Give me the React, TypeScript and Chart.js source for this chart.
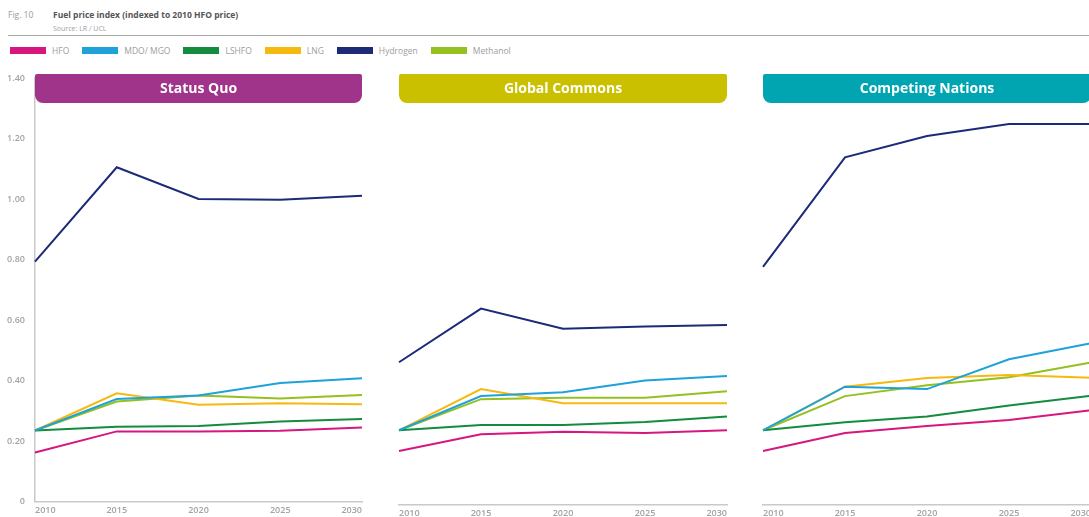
import React, { useEffect, useRef } from "react";
import { Chart, registerables } from "chart.js";

Chart.register(...registerables);

// ---------- data ----------
const years = ["2010", "2015", "2020", "2025", "2030"];
const yTicks = [0, 0.2, 0.4, 0.6, 0.8, 1.0, 1.2, 1.4];

const seriesNames = ["HFO", "MDO/ MGO", "LSHFO", "LNG", "Hydrogen", "Methanol"];
const seriesColors = ["#d6177f", "#1fa2d9", "#138c3f", "#f6b90f", "#1c2a78", "#94c11f"];

const panelTitles = ["Status Quo", "Global Commons", "Competing Nations"];
const panelColors = ["#a0348a", "#cbc000", "#00a5b1"];

// Status Quo
const sqHFO = [0.162, 0.232, 0.232, 0.234, 0.245];
const sqMDO = [0.235, 0.339, 0.351, 0.392, 0.408];
const sqLSHFO = [0.235, 0.247, 0.25, 0.265, 0.273];
const sqLNG = [0.235, 0.358, 0.32, 0.325, 0.322];
const sqHydrogen = [0.793, 1.105, 1.0, 0.998, 1.011];
const sqMethanol = [0.235, 0.331, 0.351, 0.341, 0.352];

// Global Commons
const gcHFO = [0.177, 0.232, 0.24, 0.236, 0.245];
const gcMDO = [0.245, 0.357, 0.37, 0.408, 0.423];
const gcLSHFO = [0.245, 0.262, 0.262, 0.272, 0.29];
const gcLNG = [0.245, 0.38, 0.334, 0.334, 0.334];
const gcHydrogen = [0.468, 0.644, 0.578, 0.585, 0.59];
const gcMethanol = [0.245, 0.347, 0.352, 0.352, 0.373];

// Competing Nations
const cnHFO = [0.177, 0.236, 0.259, 0.279, 0.311];
const cnMDO = [0.245, 0.388, 0.38, 0.478, 0.53];
const cnLSHFO = [0.245, 0.271, 0.29, 0.326, 0.358];
const cnLNG = [0.245, 0.388, 0.416, 0.426, 0.417];
const cnHydrogen = [0.781, 1.14, 1.21, 1.249, 1.249];
const cnMethanol = [0.245, 0.357, 0.393, 0.419, 0.467];

const panelData = [
  [sqHFO, sqMDO, sqLSHFO, sqLNG, sqHydrogen, sqMethanol],
  [gcHFO, gcMDO, gcLSHFO, gcLNG, gcHydrogen, gcMethanol],
  [cnHFO, cnMDO, cnLSHFO, cnLNG, cnHydrogen, cnMethanol],
];

// ---------- layout ----------
const FONT = "'Open Sans', 'DejaVu Sans', sans-serif";
const CANVAS_H = 517;
const PANELS = [
  { left: 0, width: 370, padLeft: 0, padRight: 8, showY: true },
  { left: 391, width: 344, padLeft: 8, padRight: 8, showY: false },
  { left: 755, width: 344, padLeft: 8, padRight: 8, showY: false },
];
const AXIS_COLOR = "#c9c9c9";
const TICK_COLOR = "#a3a3a3";

const panelHeaderPlugin = {
  id: "panelHeader",
  beforeDatasetsDraw(chart: any, _args: any, opts: any) {
    const { ctx, chartArea } = chart;
    const left = chartArea.left;
    const right = chartArea.right;
    const top = chartArea.top - 4;
    const bottom = chartArea.top + 25;
    ctx.save();
    ctx.fillStyle = opts.color;
    ctx.beginPath();
    ctx.roundRect(left, top, right - left, bottom - top, [2, 2, 8, 8]);
    ctx.fill();
    ctx.fillStyle = "#ffffff";
    ctx.font = `bold 14px ${FONT}`;
    ctx.textAlign = "center";
    ctx.textBaseline = "middle";
    ctx.fillText(opts.text, (left + right) / 2, (top + bottom) / 2 + 1);
    ctx.restore();
  },
};

function Panel({ index }: { index: number }) {
  const ref = useRef<HTMLCanvasElement | null>(null);
  const p = PANELS[index];
  useEffect(() => {
    if (!ref.current) return;
    const chart = new Chart(ref.current, {
      type: "line",
      data: {
        labels: years,
        datasets: seriesNames.map((name, i) => ({
          label: name,
          data: panelData[index][i],
          borderColor: seriesColors[i],
          backgroundColor: seriesColors[i],
          borderWidth: 2,
          pointRadius: 0,
          tension: 0,
          fill: false,
        })),
      },
      options: {
        animation: false,
        responsive: false,
        maintainAspectRatio: false,
        events: [],
        layout: { padding: { top: 78, bottom: 0, left: p.padLeft, right: p.padRight } },
        plugins: {
          legend: { display: false },
          tooltip: { enabled: false },
          title: { display: false },
          panelHeader: { text: panelTitles[index], color: panelColors[index] },
        } as any,
        scales: {
          x: {
            type: "category",
            offset: false,
            afterFit: (s: any) => {
              s.height = 12;
            },
            border: { display: true, color: AXIS_COLOR, width: 1.5 },
            grid: { drawOnChartArea: false, drawTicks: false },
            ticks: {
              align: "inner",
              padding: 3,
              maxRotation: 0,
              autoSkip: false,
              color: TICK_COLOR,
              font: { family: FONT, size: 9, weight: "600" },
            },
          },
          y: {
            display: p.showY,
            min: 0,
            max: 1.4,
            afterFit: (s: any) => {
              s.width = p.showY ? 35 : 0;
            },
            afterBuildTicks: (s: any) => {
              s.ticks = yTicks.map((v) => ({ value: v }));
            },
            border: { display: true, color: AXIS_COLOR, width: 1.5 },
            grid: { drawOnChartArea: false, drawTicks: false },
            ticks: {
              padding: 10,
              color: TICK_COLOR,
              font: { family: FONT, size: 9, weight: "600" },
              callback: (v: any) => (Number(v) === 0 ? "0" : Number(v).toFixed(2)),
            },
          },
        },
      },
      plugins: [panelHeaderPlugin],
    } as any);
    return () => chart.destroy();
  }, [index]);
  return (
    <canvas
      ref={ref}
      width={p.width}
      height={CANVAS_H}
      style={{ position: "absolute", left: p.left, top: 0, width: p.width, height: CANVAS_H }}
    />
  );
}

export default function App() {
  return (
    <div
      style={{
        position: "absolute",
        left: 0,
        top: 0,
        width: 1089,
        height: 517,
        overflow: "hidden",
        background: "#ffffff",
        fontFamily: FONT,
      }}
    >
      <div style={{ position: "absolute", left: 8, top: 9, fontSize: 8.5, lineHeight: "12px", color: "#9b9b9b" }}>
        Fig. 10
      </div>
      <div
        style={{
          position: "absolute",
          left: 53,
          top: 9,
          fontSize: 8.5,
          lineHeight: "12px",
          fontWeight: 700,
          color: "#555555",
          whiteSpace: "nowrap",
        }}
      >
        Fuel price index (indexed to 2010 HFO price)
      </div>
      <div
        style={{
          position: "absolute",
          left: 53,
          top: 24,
          fontSize: 7,
          lineHeight: "10px",
          color: "#a0a0a0",
          whiteSpace: "nowrap",
        }}
      >
        Source: LR / UCL
      </div>
      <div style={{ position: "absolute", left: 8, top: 35, width: 1081, height: 1, background: "#a8a8a8" }} />
      <div style={{ position: "absolute", left: 10, top: 44, height: 13, display: "flex", alignItems: "center" }}>
        {seriesNames.map((name, i) => (
          <div key={name} style={{ display: "flex", alignItems: "center", marginRight: 13 }}>
            <div style={{ width: 36, height: 7, background: seriesColors[i], marginRight: 6 }} />
            <span style={{ fontSize: 8.5, lineHeight: "13px", color: "#9d9d9d", whiteSpace: "nowrap" }}>{name}</span>
          </div>
        ))}
      </div>
      {PANELS.map((_, i) => (
        <Panel key={i} index={i} />
      ))}
    </div>
  );
}
